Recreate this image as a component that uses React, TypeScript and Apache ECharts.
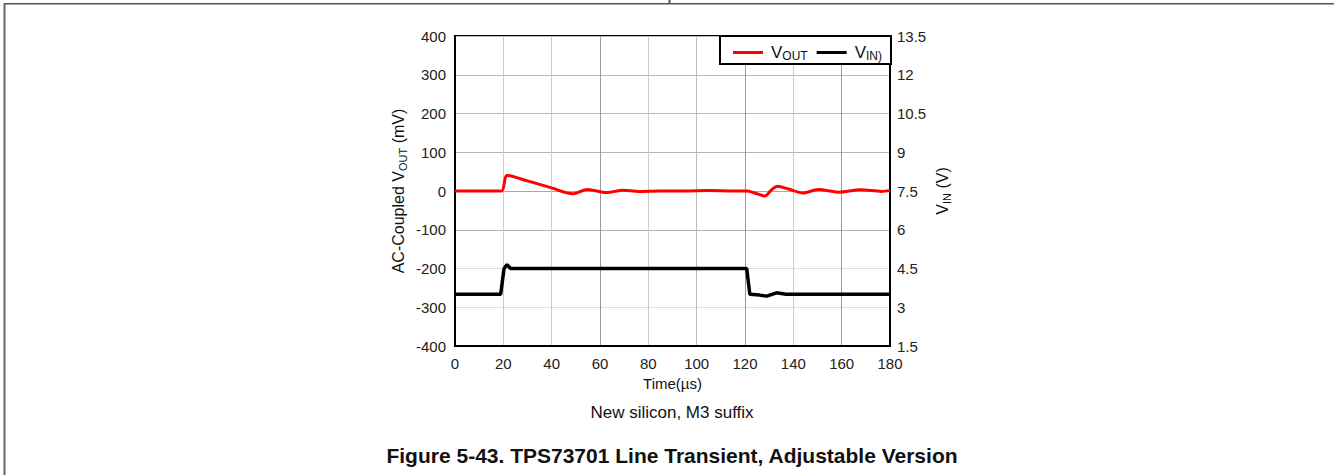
import React, { useEffect, useRef } from "react";
import * as echarts from "echarts";

// ---- data ----
const VOUT_TIME_US = [0, 5, 10, 15, 19.3, 21.6, 30, 40, 48.7, 54.8, 62.7, 69.5, 76, 85, 95, 105, 115, 120.7, 124, 128.3, 130.5, 133.4, 138, 144.1, 150.3, 158.6, 167.9, 176.5, 180];
const VOUT_MV = [0, 0, 0, 0, 0, 40, 26, 8, -7, 4, -4, 2, -1, 0, 0, 1, 0, 0, -5, -13, 0, 12, 5, -5, 4, -3, 3, -1, 1];

const VIN_TIME_US = [0, 18.9, 20.3, 21.5, 23, 40, 60, 80, 100, 120.7, 122, 126, 129, 133, 137, 150, 180];
const VIN_V = [3.5, 3.5, 4.5, 4.65, 4.5, 4.5, 4.5, 4.5, 4.5, 4.5, 3.5, 3.47, 3.43, 3.56, 3.5, 3.5, 3.5];

const X_TICKS = [0, 20, 40, 60, 80, 100, 120, 140, 160, 180];
const LEFT_TICKS = [-400, -300, -200, -100, 0, 100, 200, 300, 400];
const RIGHT_TICKS = [1.5, 3, 4.5, 6, 7.5, 9, 10.5, 12, 13.5];

const SERIES_NAMES = ["VOUT", "VIN)"];
const CAPTION = "New silicon, M3 suffix";
const FIGURE_TITLE = "Figure 5-43. TPS73701 Line Transient, Adjustable Version";

const FONT = "Liberation Sans, Arial, sans-serif";

export default function App() {
  const ref = useRef<HTMLDivElement>(null);

  useEffect(() => {
    if (!ref.current) return;
    const chart = echarts.init(ref.current, null, { renderer: "svg" });

    const subRich = {
      sub: { fontSize: 11, lineHeight: 11, verticalAlign: "bottom", fontFamily: FONT, color: "#111" },
    };
    const legendRich = {
      gap: { width: 3 },
      sub: { fontSize: 12, lineHeight: 12, verticalAlign: "bottom", fontFamily: FONT, color: "#111" },
    };

    const option: any = {
      animation: false,
      backgroundColor: "#ffffff",
      textStyle: { fontFamily: FONT },
      grid: {
        left: 455,
        top: 36,
        width: 435,
        height: 310,
        show: true,
        borderColor: "#000",
        borderWidth: 2,
        backgroundColor: "transparent",
      },
      legend: {
        data: SERIES_NAMES,
        right: 443,
        top: 36,
        orient: "horizontal",
        backgroundColor: "#fff",
        borderColor: "#000",
        borderWidth: 2,
        borderRadius: 0,
        padding: [7, 9, 2, 13],
        itemGap: 9,
        itemWidth: 30,
        itemHeight: 3,
        icon: "rect",
        selectedMode: false,
        formatter: (name: string) => (name === "VOUT" ? "{gap|}V{sub|OUT}" : "{gap|}V{sub|IN)}"),
        textStyle: { fontSize: 17, lineHeight: 19, color: "#111", fontFamily: FONT, rich: legendRich },
      },
      xAxis: {
        type: "value",
        min: X_TICKS[0],
        max: X_TICKS[X_TICKS.length - 1],
        interval: 20,
        name: "Time(µs)",
        nameLocation: "middle",
        nameGap: 28,
        nameTextStyle: { fontSize: 15, color: "#111", fontFamily: FONT },
        axisLine: { show: true, onZero: false, lineStyle: { color: "#000", width: 2 } },
        axisTick: { show: false },
        axisLabel: { fontSize: 15, color: "#222", margin: 10, fontFamily: FONT },
        splitLine: {
          show: true,
          lineStyle: {
            color: ["#cccccc", "#cccccc", "#cccccc", "#9a9a9a", "#cccccc", "#bdbdbd", "#9a9a9a", "#cccccc", "#9a9a9a", "#cccccc"],
            width: 1,
          },
        },
      },
      yAxis: [
        {
          type: "value",
          position: "left",
          min: LEFT_TICKS[0],
          max: LEFT_TICKS[LEFT_TICKS.length - 1],
          interval: 100,
          name: "AC-Coupled V{sub|OUT} (mV)",
          nameLocation: "middle",
          nameRotate: 90,
          nameGap: 47,
          nameTextStyle: { fontSize: 16, lineHeight: 20, color: "#111", fontFamily: FONT, rich: subRich },
          axisLine: { show: true, onZero: false, lineStyle: { color: "#000", width: 2 } },
          axisTick: { show: false },
          axisLabel: { fontSize: 15, color: "#222", margin: 9, fontFamily: FONT },
          splitLine: {
            show: true,
            lineStyle: {
              color: ["#bbbbbb", "#dddddd", "#dddddd", "#b0b0b0", "#a8a8a8", "#b8b8b8", "#bbbbbb", "#bbbbbb", "#bbbbbb"],
              width: 1,
            },
          },
        },
        {
          type: "value",
          position: "right",
          min: RIGHT_TICKS[0],
          max: RIGHT_TICKS[RIGHT_TICKS.length - 1],
          interval: 1.5,
          name: "V{sub|IN} (V)",
          nameLocation: "middle",
          nameRotate: 90,
          nameGap: 42,
          nameTextStyle: { fontSize: 16, lineHeight: 20, color: "#111", fontFamily: FONT, rich: subRich },
          axisLine: { show: true, onZero: false, lineStyle: { color: "#000", width: 2 } },
          axisTick: { show: false },
          axisLabel: { fontSize: 15, color: "#222", margin: 7, fontFamily: FONT },
          splitLine: { show: false },
        },
      ],
      series: [
        {
          name: SERIES_NAMES[0],
          type: "line",
          yAxisIndex: 0,
          symbol: "none",
          smooth: 0.3,
          data: VOUT_TIME_US.map((t, i) => [t, VOUT_MV[i]]),
          lineStyle: { color: "#ff0000", width: 3 },
          itemStyle: { color: "#ff0000" },
          z: 3,
        },
        {
          name: SERIES_NAMES[1],
          type: "line",
          yAxisIndex: 1,
          symbol: "none",
          data: VIN_TIME_US.map((t, i) => [t, VIN_V[i]]),
          lineStyle: { color: "#000000", width: 3.5 },
          itemStyle: { color: "#000000" },
          z: 4,
        },
      ],
      graphic: [
        { type: "line", shape: { x1: 4.5, y1: 3.5, x2: 4.5, y2: 475 }, style: { stroke: "#666", lineWidth: 2 } },
        { type: "line", shape: { x1: 4, y1: 3.8, x2: 1334, y2: 3.8 }, style: { stroke: "#555", lineWidth: 1.5 } },
        { type: "line", shape: { x1: 669.5, y1: 0, x2: 669.5, y2: 4 }, style: { stroke: "#555", lineWidth: 2 } },
        {
          type: "text",
          x: 672,
          y: 412,
          style: { text: CAPTION, fontSize: 17, fontFamily: FONT, fill: "#111", textAlign: "center", textVerticalAlign: "middle" },
        },
        {
          type: "text",
          x: 672,
          y: 455,
          style: {
            text: FIGURE_TITLE,
            fontSize: 21,
            fontWeight: "bold",
            fontFamily: FONT,
            fill: "#111",
            textAlign: "center",
            textVerticalAlign: "middle",
          },
        },
      ],
    };

    chart.setOption(option);
    return () => chart.dispose();
  }, []);

  return (
    <div
      ref={ref}
      style={{ position: "fixed", left: 0, top: 0, width: 1334, height: 475, background: "#fff" }}
    />
  );
}
